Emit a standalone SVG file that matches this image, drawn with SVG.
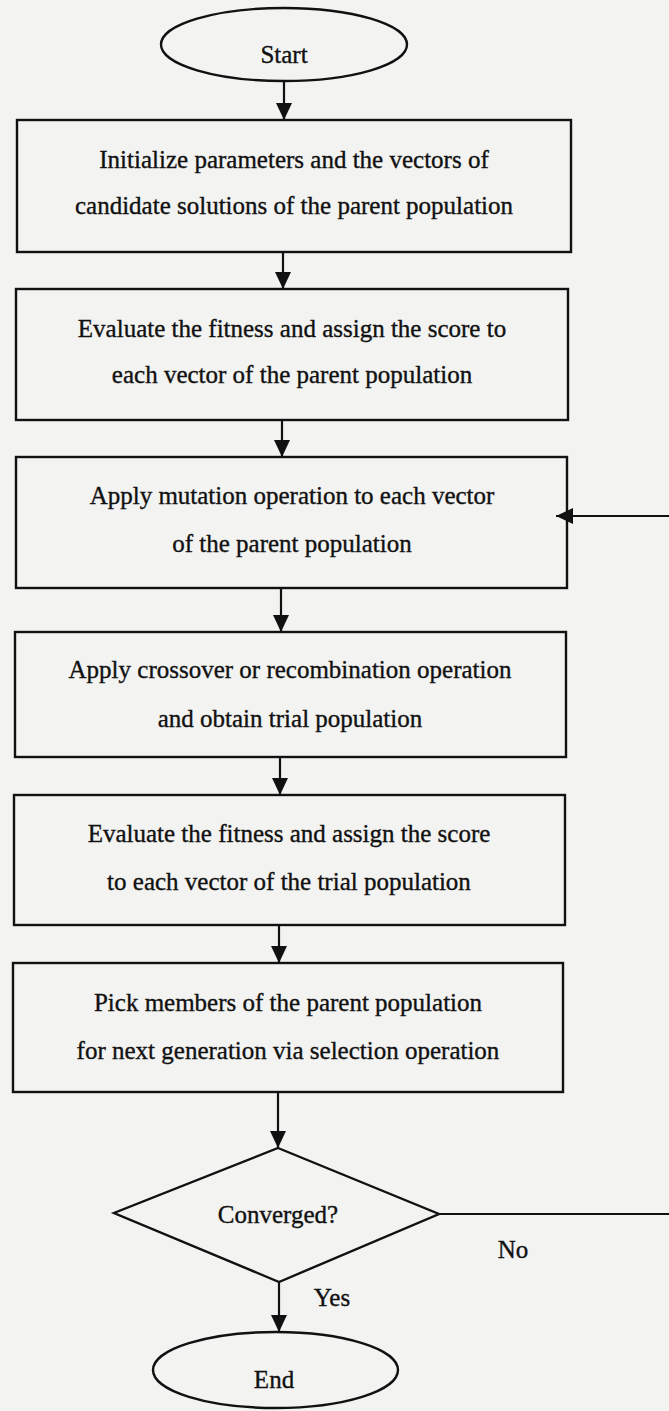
<svg xmlns="http://www.w3.org/2000/svg" width="669" height="1411" viewBox="0 0 669 1411">
<defs>
<style>
.bg{fill:#f3f3f1}
.shape{fill:none;stroke:#111;stroke-width:2.4}
.conn{fill:none;stroke:#111;stroke-width:2.2}
.t{font-family:"Liberation Serif","Times New Roman",serif;font-size:25px;fill:#111;stroke:#111;stroke-width:0.35;text-anchor:middle}
</style>
<marker id="ah" viewBox="0 0 17 16" refX="17" refY="8" markerWidth="17" markerHeight="16" markerUnits="userSpaceOnUse" orient="auto">
<path d="M0,0 L17,8 L0,16 z" fill="#111"/>
</marker>
</defs>
<rect class="bg" x="0" y="0" width="669" height="1411"/>
<g id="start">
<ellipse class="shape" cx="284" cy="44.5" rx="123" ry="36.5"/>
<text class="t" x="284" y="63">Start</text>
</g>
<g id="init">
<rect class="shape" x="17" y="120" width="554" height="132"/>
<text class="t" x="294" y="168">Initialize parameters and the vectors of</text>
<text class="t" x="294" y="214">candidate solutions of the parent population</text>
</g>
<g id="eval-parent">
<rect class="shape" x="16" y="289" width="552" height="131"/>
<text class="t" x="292" y="337">Evaluate the fitness and assign the score to</text>
<text class="t" x="292" y="383">each vector of the parent population</text>
</g>
<g id="mutation">
<rect class="shape" x="16" y="457" width="551" height="131"/>
<text class="t" x="292" y="504">Apply mutation operation to each vector</text>
<text class="t" x="292" y="552">of the parent population</text>
</g>
<g id="crossover">
<rect class="shape" x="15" y="632" width="551" height="125"/>
<text class="t" x="290" y="678">Apply crossover or recombination operation</text>
<text class="t" x="290" y="727">and obtain trial population</text>
</g>
<g id="eval-trial">
<rect class="shape" x="14" y="795" width="551" height="130"/>
<text class="t" x="289" y="842">Evaluate the fitness and assign the score</text>
<text class="t" x="289" y="890">to each vector of the trial population</text>
</g>
<g id="select">
<rect class="shape" x="13" y="963" width="550" height="129"/>
<text class="t" x="288" y="1011">Pick members of the parent population</text>
<text class="t" x="288" y="1059">for next generation via selection operation</text>
</g>
<g id="converged">
<polygon class="shape" points="278,1148 439,1214 279,1282 114,1213"/>
<text class="t" x="278" y="1223">Converged?</text>
</g>
<g id="end">
<ellipse class="shape" cx="275.5" cy="1370" rx="122.5" ry="38"/>
<text class="t" x="274" y="1388">End</text>
</g>
<g id="connectors">
<line class="conn" x1="284" y1="81" x2="284" y2="120" marker-end="url(#ah)"/>
<line class="conn" x1="283" y1="252" x2="283" y2="289" marker-end="url(#ah)"/>
<line class="conn" x1="282" y1="420" x2="282" y2="457" marker-end="url(#ah)"/>
<line class="conn" x1="281" y1="588" x2="281" y2="632" marker-end="url(#ah)"/>
<line class="conn" x1="280" y1="757" x2="280" y2="795" marker-end="url(#ah)"/>
<line class="conn" x1="279" y1="925" x2="279" y2="963" marker-end="url(#ah)"/>
<line class="conn" x1="278" y1="1092" x2="278" y2="1148" marker-end="url(#ah)"/>
<line class="conn" x1="279" y1="1282" x2="279" y2="1332" marker-end="url(#ah)"/>
<line class="conn" x1="439" y1="1214" x2="670" y2="1214"/>
<line class="conn" x1="670" y1="516" x2="556" y2="516" marker-end="url(#ah)"/>
<text class="t" x="513" y="1258">No</text>
<text class="t" x="332" y="1306">Yes</text>
</g>
</svg>
